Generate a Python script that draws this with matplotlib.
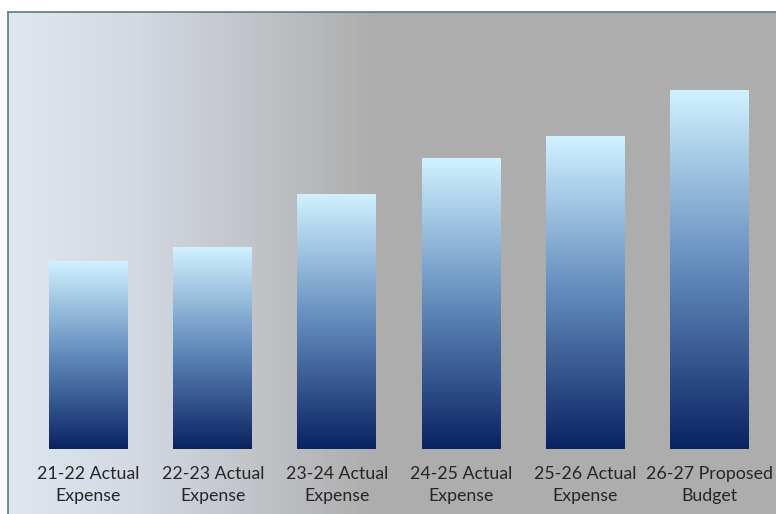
import numpy as np
import matplotlib.pyplot as plt
from matplotlib.colors import LinearSegmentedColormap

# Bar values (relative, no axis shown in the reference)
categories = [
    "21-22 Actual\nExpense",
    "22-23 Actual\nExpense",
    "23-24 Actual\nExpense",
    "24-25 Actual\nExpense",
    "25-26 Actual\nExpense",
    "26-27 Proposed\nBudget",
]
values = [18.8, 20.2, 25.5, 29.1, 31.3, 35.9]


def main():
    W, H = 776, 514
    fig = plt.figure(figsize=(W / 100, H / 100), dpi=100)
    fig.patch.set_facecolor("white")

    # ------------------------------------------------------------------
    # Background panel with horizontal gradient
    # ------------------------------------------------------------------
    bg = fig.add_axes([8 / W, 0, 1 - 8 / W, (H - 12) / H])
    bg_cmap = LinearSegmentedColormap.from_list(
        "bg", [(0.0, "#dfe7f0"), (0.17, "#d3d8e1"), (0.48, "#adadad"), (1.0, "#adadad")]
    )
    grad = np.linspace(0, 1, 512).reshape(1, -1)
    bg.imshow(grad, cmap=bg_cmap, aspect="auto", extent=[0, 1, 0, 1])
    bg.set_xlim(0, 1)
    bg.set_ylim(0, 1)
    bg.set_xticks([])
    bg.set_yticks([])
    for side in ["right", "bottom"]:
        bg.spines[side].set_visible(False)
    for side in ["left", "top"]:
        bg.spines[side].set_color("#5b7b88")
        bg.spines[side].set_linewidth(1.2)

    # ------------------------------------------------------------------
    # Bars with vertical gradient
    # ------------------------------------------------------------------
    left_px, right_px = 26.4, 771.6
    base_px, top_px = 449, 12
    ax = fig.add_axes([left_px / W, (H - base_px) / H,
                       (right_px - left_px) / W, (base_px - top_px) / H])
    ax.patch.set_alpha(0)

    x = np.arange(len(categories))
    bars = ax.bar(x, values, width=0.636, color="none", edgecolor="none")

    bar_cmap = LinearSegmentedColormap.from_list(
        "bar", [(0.0, "#0a2362"), (0.5, "#628bbc"), (1.0, "#d0f1ff")]
    )
    vgrad = np.linspace(0, 1, 256).reshape(-1, 1)
    for b in bars:
        x0, w, h = b.get_x(), b.get_width(), b.get_height()
        ax.imshow(vgrad, cmap=bar_cmap, origin="lower", aspect="auto",
                  extent=[x0, x0 + w, 0, h], zorder=2)

    ax.set_xlim(-0.5, len(categories) - 0.5)
    ax.set_ylim(0, 43.7)
    ax.set_xticks(x)
    ax.set_xticklabels(categories, fontsize=12.8, color="#262626",
                       family="Lato", linespacing=1.5)
    ax.tick_params(axis="x", length=0, pad=12)
    ax.set_yticks([])
    for s in ax.spines.values():
        s.set_visible(False)

    fig.savefig("out.png", dpi=100)
    plt.close(fig)


if __name__ == "__main__":
    main()
